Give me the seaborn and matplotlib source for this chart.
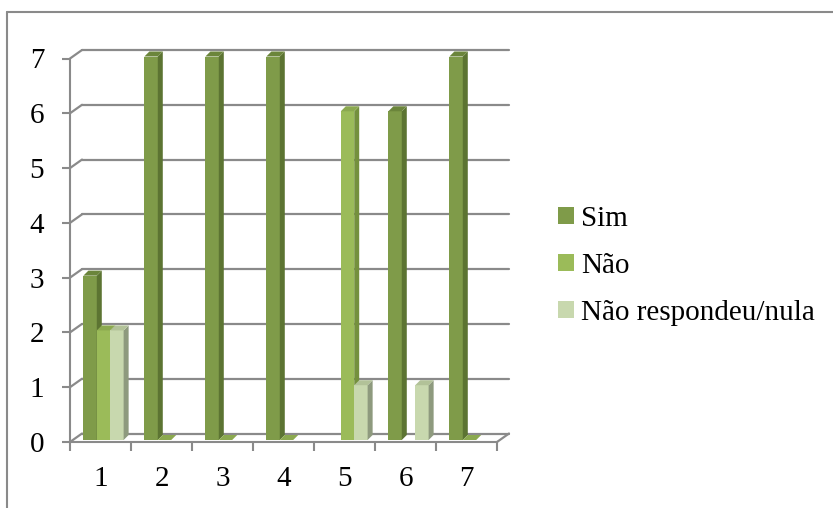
import matplotlib
matplotlib.use("Agg")
import matplotlib.pyplot as plt
import numpy as np
import pandas as pd
import seaborn as sns
from matplotlib.lines import Line2D
from matplotlib.patches import Polygon, Rectangle
from matplotlib.transforms import IdentityTransform

# Survey answers per question (None = no bar drawn)
grupos = ["1", "2", "3", "4", "5", "6", "7"]
respostas = ["Sim", "Não", "Não respondeu/nula"]
sim = [3, 7, 7, 7, None, 6, 7]
nao = [2, 0, 0, 0, 6, None, 0]
nao_respondeu = [2, None, None, None, 1, 1, None]
y_ticks = [0, 1, 2, 3, 4, 5, 6, 7]

rows = []
for serie, valores in zip(respostas, [sim, nao, nao_respondeu]):
    for g, v in zip(grupos, valores):
        if v is not None:
            rows.append({"grupo": g, "resposta": serie, "valor": v})
df = pd.DataFrame(rows)

# face colours: front, side, top
front = {"Sim": "#7F9B49", "Não": "#9BBB59", "Não respondeu/nula": "#C8D8AE"}
side = {"Sim": "#5C7432", "Não": "#74903D", "Não respondeu/nula": "#8E9A7E"}
top = {"Sim": "#6B853B", "Não": "#8BA94F", "Não respondeu/nula": "#B2C298"}

sns.set_theme(style="white")
plt.rcParams["font.family"] = ["Liberation Serif", "DejaVu Serif"]
plt.rcParams["text.color"] = "black"

W, H = 833, 508
DPI = 100
fig = plt.figure(figsize=(W / DPI, H / DPI), dpi=DPI)
ax = fig.add_axes([70 / W, (H - 442) / H, 427 / W, 383.5 / H])

sns.barplot(data=df, x="grupo", y="valor", hue="resposta", order=grupos,
            hue_order=respostas, palette=front, width=0.66, saturation=1,
            linewidth=0, legend=False, ax=ax)

ax.set_xlim(-0.5, len(grupos) - 0.5)
ax.set_ylim(0, 7)
ax.set_xlabel("")
ax.set_ylabel("")

grey = "#8A8A8A"
for s in ["top", "right"]:
    ax.spines[s].set_visible(False)
for s in ["left", "bottom"]:
    ax.spines[s].set_color(grey)
    ax.spines[s].set_linewidth(1.5)
    ax.spines[s].set_zorder(1)

# y axis ticks
ax.set_yticks(y_ticks)
ax.set_yticklabels([str(v) for v in y_ticks])
ax.tick_params(axis="y", direction="out", length=5.5, width=1.5, color=grey,
               pad=13, labelsize=21, labelcolor="black", left=True)

# x axis: ticks on category boundaries, labels on centres
ax.set_xticks(np.arange(-0.5, len(grupos)), labels=[""] * (len(grupos) + 1))
ax.set_xticks(np.arange(len(grupos)), labels=grupos, minor=True)
ax.tick_params(axis="x", which="major", direction="out", length=6.5, width=1.5,
               color=grey, bottom=True)
ax.tick_params(axis="x", which="minor", length=0, pad=17, labelsize=21,
               labelcolor="black")

ident = IdentityTransform()

# back wall gridlines and floor (perspective offset in pixels)
DX, DY = 12, 8.5
x_left, x_right = ax.get_xlim()
for v in y_ticks:
    xa, ya = ax.transData.transform((x_left, v))
    xb, yb = ax.transData.transform((x_right, v))
    ax.add_artist(Line2D([xa + DX, xb + DX], [ya + DY, yb + DY], color=grey,
                         lw=1.6, transform=ident, clip_on=False, zorder=1))
    ax.add_artist(Line2D([xa, xa + DX], [ya, ya + DY], color=grey, lw=1.6,
                         transform=ident, clip_on=False, zorder=1))
x0r, y0r = ax.transData.transform((x_right, 0))
ax.add_artist(Line2D([x0r, x0r + DX], [y0r, y0r + DY], color=grey, lw=1.6,
                     transform=ident, clip_on=False, zorder=1))

# bars: shift into the depth and add side and top faces
BX, BY = 3, 2
bd = 5
bars = [p for p in ax.patches if isinstance(p, Rectangle)]
for p in bars:
    fc = matplotlib.colors.to_hex(p.get_facecolor())
    serie = next(k for k, c in front.items() if c.lower() == fc.lower())
    x, w, h = p.get_x(), p.get_width(), p.get_height()
    (xl, yb_), (xr, yt) = ax.transData.transform([(x, 0), (x + w, h)])
    xl, xr, yb_, yt = xl + BX, xr + BX, yb_ + BY, yt + BY
    z = 3 + (x + w / 2) * 0.1
    p.remove()
    ax.add_artist(Polygon([(xl, yb_), (xr, yb_), (xr, yt), (xl, yt)],
                          closed=True, fc=front[serie], lw=0, transform=ident,
                          clip_on=False, zorder=z))
    ax.add_artist(Polygon([(xr, yb_), (xr + bd, yb_ + bd), (xr + bd, yt + bd),
                           (xr, yt)], closed=True, fc=side[serie], lw=0,
                          transform=ident, clip_on=False, zorder=z))
    ax.add_artist(Polygon([(xl, yt), (xr, yt), (xr + bd, yt + bd),
                           (xl + bd, yt + bd)], closed=True, fc=top[serie],
                          lw=0, transform=ident, clip_on=False, zorder=z))

# legend
handles = [Rectangle((0, 0), 1, 1, fc=front[s], lw=0) for s in respostas]
leg = fig.legend(handles, respostas, loc="center left",
                 bbox_to_anchor=(558 / W, 1 - 266 / H), frameon=False,
                 fontsize=21, handlelength=0.55, handleheight=0.55,
                 handletextpad=0.25, labelspacing=0.72, borderpad=0,
                 borderaxespad=0)
for t in leg.get_texts():
    t.set_color("black")

# chart frame
fig.add_artist(Line2D([7 / W, 1], [1 - 12 / H, 1 - 12 / H], color=grey, lw=1.5,
                      transform=fig.transFigure))
fig.add_artist(Line2D([7 / W, 7 / W], [0, 1 - 12 / H], color=grey, lw=1.5,
                      transform=fig.transFigure))

fig.savefig("out.png", dpi=DPI)
